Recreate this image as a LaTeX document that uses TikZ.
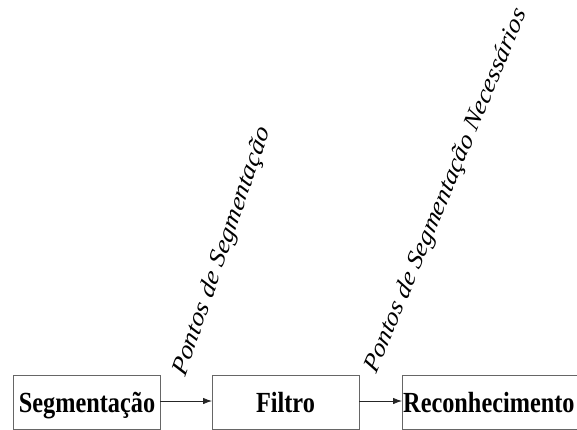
\documentclass[tikz,border=0pt]{standalone}
\usepackage{fontspec}
\setmainfont{Liberation Serif}
\usetikzlibrary{arrows.meta}
\tikzset{
  blockbox/.style={draw=black!60, line width=0.9pt},
  blocktext/.style={font=\fontsize{24.3}{28}\selectfont\bfseries, inner sep=0pt, anchor=base, yscale=1.2},
  flow/.style={draw=black!85, line width=0.8pt, -{Latex[length=9pt,width=6.5pt]}},
  slantlabel/.style={font=\fontsize{23.3}{27}\selectfont\itshape, inner sep=0pt, anchor=base west, yscale=1.2},
}
\begin{document}
\begin{tikzpicture}[x=1pt,y=-1pt]
\useasboundingbox (0,0) rectangle (577,430);
\clip (0,0) rectangle (577,430);
\draw[blockbox] (13,375) rectangle (160,429);
\draw[blockbox] (212,375) rectangle (359,429);
\draw[blockbox] (402,375) rectangle (578,429);
\coordinate (b1e) at (160,401);
\coordinate (b2w) at (212,401);
\coordinate (b2e) at (359,401);
\coordinate (b3w) at (402,401);
\node[blocktext] (seg) at (87,412) {Segmentação};
\node[blocktext] (fil) at (285.5,412) {Filtro};
\node[blocktext, anchor=base west] (rec) at (403,412) {Reconhecimento};
\draw[flow] (b1e) -- (b2w);
\draw[flow] (b2e) -- (b3w);
\node[slantlabel, rotate=67.5] (l1) at (185,378) {Pontos de Segmentação};
\node[slantlabel, font=\fontsize{23}{27}\selectfont\itshape, rotate=63.5] (l2) at (376,375) {Pontos de Segmentação Necessários};
\end{tikzpicture}
\end{document}
